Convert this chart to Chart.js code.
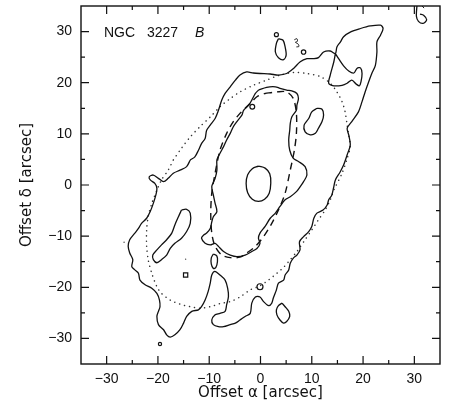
<!DOCTYPE html>
<html><head><meta charset="utf-8">
<script src="https://cdn.jsdelivr.net/npm/chart.js@4/dist/chart.umd.min.js"></script>
<style>html,body{margin:0;padding:0;background:#fff}</style>
</head><body>
<canvas id="c" width="457" height="414" style="width:457px;height:414px"></canvas>
<script>
// Axis ticks (arcsec)
const tickValues = [-30, -20, -10, 0, 10, 20, 30];
const minorTickValues = [-30, -25, -20, -15, -10, -5, 0, 5, 10, 15, 20, 25, 30];
const axisRange = [-35, 35];

// Outer isophote (arcsec offsets)
const outerContour = [
[-13.7,4.9],[-12.8,5.5],[-12.1,6.8],[-11.5,8.1],[-10.8,9.1],[-10.5,10.7],[-9.8,11.7],[-8.85,13.0],[-8.2,14.6],[-7.55,16.6],[-6.9,17.9],[-5.9,19.2],[-4.9,20.5],[-4.0,21.5],[-2.7,22.1],[-1.4,21.9],[-0.1,21.8],[1.9,21.7],[3.5,21.5],[5.1,21.8],[6.45,22.8],[7.75,24.1],[9.05,24.7],[10.35,24.7],[11.3,24.9],[12.3,26.0],[13.6,26.2],[14.6,25.7],[14.9,27.0],[15.6,28.0],[16.2,29.0],[17.5,29.9],[19.5,30.6],[21.4,31.1],[23.4,31.25],[23.9,30.6],[23.4,29.3],[22.7,28.0],[22.7,26.0],[22.4,23.4],[21.7,21.8],[21.1,20.2],[20.4,18.2],[19.8,16.3],[19.1,14.3],[17.8,12.4],[16.9,11.1],[17.2,9.8],[17.5,7.8],[16.9,5.9],[16.2,3.9],[15.5,2.5],[14.6,1.0],[14.3,-0.3],[13.9,-2.0],[13.3,-2.9],[13.0,-3.9],[12.2,-4.9],[11.0,-5.5],[10.4,-6.5],[10.0,-8.1],[9.4,-9.1],[8.4,-10.1],[7.6,-11.1],[7.7,-12.7],[7.1,-13.7],[6.4,-14.3],[5.8,-15.3],[5.5,-16.6],[4.8,-17.6],[4.5,-18.6],[3.5,-19.2],[3.1,-20.5],[2.5,-22.1],[2.2,-23.1],[1.6,-23.6],[0.6,-22.8],[-0.1,-21.9],[-1.0,-21.9],[-1.7,-23.1],[-2.0,-25.1],[-3.0,-25.7],[-4.0,-26.4],[-4.9,-27.0],[-5.9,-27.3],[-7.2,-27.7],[-8.2,-27.7],[-9.2,-27.3],[-9.5,-26.4],[-8.9,-25.4],[-7.9,-25.1],[-6.9,-24.7],[-6.6,-23.4],[-6.25,-21.8],[-6.4,-20.2],[-6.9,-18.6],[-7.9,-17.6],[-8.9,-16.9],[-9.5,-17.6],[-9.8,-19.2],[-10.2,-20.8],[-10.8,-22.5],[-11.5,-23.8],[-12.1,-24.4],[-13.4,-24.7],[-14.4,-25.7],[-15.0,-27.0],[-15.7,-28.3],[-16.7,-29.3],[-17.6,-29.75],[-18.3,-29.3],[-18.9,-28.3],[-19.9,-27.3],[-20.2,-25.7],[-19.9,-24.7],[-19.6,-23.8],[-19.7,-22.5],[-20.2,-21.2],[-21.2,-20.2],[-22.5,-19.5],[-23.5,-18.6],[-23.8,-17.25],[-24.5,-16.6],[-25.1,-15.95],[-24.9,-14.6],[-25.5,-13.3],[-25.8,-12.0],[-25.5,-10.7],[-24.5,-9.4],[-23.8,-8.5],[-23.2,-7.5],[-22.2,-6.5],[-21.5,-5.2],[-20.9,-3.6],[-20.4,-1.95],[-20.2,-0.65],[-20.6,0.3],[-21.5,1.0],[-21.7,1.6],[-20.9,1.95],[-19.9,1.3],[-18.9,0.65],[-18.0,1.3],[-17.0,2.3],[-15.7,2.9],[-14.4,3.6]
];
// Loop inside the NE arm
const armLoop = [
[14.6,25.7],[14.3,24.1],[13.6,21.5],[13.3,19.9],[14.3,19.4],[15.9,19.5],[16.9,19.9],[17.8,20.5],[18.7,19.7],[19.3,19.4],[19.6,20.2],[19.8,21.8],[19.5,22.9],[18.8,22.8],[18.2,21.9],[17.2,22.3],[16.2,23.3],[15.3,24.6]
];
// Inner isophote
const innerContour = [
[-0.4,18.55],[1.2,19.1],[2.9,19.2],[3.8,18.9],[5.1,18.55],[6.1,18.4],[7.1,17.9],[7.4,16.9],[7.1,15.6],[7.0,14.6],[6.1,13.3],[5.8,12.0],[5.7,10.7],[5.5,8.8],[5.7,6.8],[6.4,5.2],[7.4,4.6],[8.7,3.6],[9.05,1.95],[8.4,0.65],[7.75,-0.3],[7.0,-1.3],[5.8,-2.3],[4.8,-2.9],[3.8,-4.2],[2.9,-5.5],[1.9,-6.5],[0.9,-8.1],[-0.1,-9.4],[-0.4,-10.4],[-0.1,-11.4],[-0.7,-12.4],[-1.7,-13.0],[-3.0,-13.7],[-4.6,-14.0],[-5.9,-13.7],[-7.2,-13.0],[-8.2,-12.0],[-8.85,-11.4],[-9.8,-11.7],[-10.8,-11.4],[-11.5,-10.4],[-11.1,-9.8],[-10.5,-9.4],[-9.8,-8.5],[-9.5,-7.2],[-9.2,-6.2],[-8.5,-5.2],[-8.85,-3.6],[-9.2,-1.95],[-9.5,-0.3],[-8.85,1.3],[-8.5,2.9],[-8.5,4.9],[-7.9,6.2],[-7.2,7.5],[-6.6,8.8],[-5.9,10.1],[-5.3,11.4],[-4.6,12.4],[-3.6,13.7],[-3.3,14.6],[-2.3,15.6],[-1.7,16.6],[-1.0,17.9]
];
// Nuclear isophote
const nucleusContour = [
[-0.4,3.7],[0.9,3.3],[1.8,2.2],[2.0,0.3],[1.7,-1.6],[0.8,-2.8],[-0.4,-3.2],[-1.6,-2.8],[-2.5,-1.5],[-2.8,0.3],[-2.5,2.0],[-1.6,3.2]
];
// Isolated islands
const islandWest = [
[-15.4,-4.9],[-14.4,-4.75],[-13.7,-5.5],[-13.7,-7.5],[-14.4,-9.1],[-15.4,-10.4],[-16.7,-11.4],[-17.6,-12.4],[-18.3,-13.7],[-19.3,-14.6],[-20.2,-15.2],[-20.9,-14.6],[-21.0,-13.7],[-20.2,-12.7],[-19.3,-11.7],[-18.3,-10.7],[-17.3,-9.4],[-16.7,-7.8],[-16.0,-6.2]
];
const islandSouth = [
[-9.2,-13.5],[-8.5,-13.9],[-8.4,-15.0],[-8.7,-16.1],[-9.2,-16.3],[-9.6,-15.4],[-9.6,-14.3]
];
const islandSE = [
[4.2,-23.1],[4.8,-23.8],[5.5,-24.7],[5.7,-25.7],[5.1,-26.7],[4.5,-27.0],[3.8,-26.4],[3.2,-25.4],[3.1,-24.4],[3.5,-23.6]
];
const islandEast = [
[11.0,15.0],[12.0,14.8],[12.3,13.7],[12.0,12.4],[11.3,11.1],[10.7,10.1],[9.7,9.8],[8.7,10.4],[8.5,11.7],[9.4,13.0],[10.0,14.3]
];
const islandNorth = [
[3.5,28.6],[4.4,28.3],[4.8,27.0],[5.0,25.4],[4.5,24.5],[3.5,24.9],[2.9,26.0],[3.1,27.7]
];
const scribbleNorth = [
[6.6,28.4],[7.1,28.6],[7.2,28.1],[6.8,27.9],[7.3,27.6],[7.5,27.1],[7.0,27.0]
];
const cornerContour = [
[30.5,35.0],[30.4,33.0],[30.8,32.0],[31.7,31.6],[32.4,32.3],[31.8,33.2],[31.1,33.4]
];
const cornerTick = [[31.5,35.0],[31.9,34.6]];
// Tiny closed isophotes (centres)
const tinyLoops = [[-0.1,-19.9],[3.1,29.4],[8.4,26.0],[-1.6,15.3],[-19.6,-31.1]];
const tinySquare = [[-14.6,-17.6]];
const tinyDots = [[-14.6,-14.5],[-26.6,-11.2]];

// Model ellipses
const dashedEllipse = [
[0.9,17.9],[3.2,18.2],[5.1,18.2],[6.4,16.9],[7.0,14.0],[7.0,10.1],[6.6,6.8],[5.8,2.9],[4.8,-1.6],[3.5,-4.9],[2.2,-7.5],[0.6,-10.1],[-1.0,-12.0],[-2.7,-13.3],[-4.0,-14.1],[-5.9,-14.2],[-7.55,-13.7],[-8.85,-12.0],[-9.5,-9.4],[-9.7,-5.5],[-9.5,-1.6],[-8.85,2.3],[-7.9,6.8],[-6.6,10.1],[-5.3,12.4],[-4.0,14.0],[-2.7,15.3],[-2.0,15.95],[-0.7,17.25]
];
const dottedEllipse = [
[-17.0,4.9],[-15.4,7.2],[-13.7,9.4],[-11.8,11.4],[-9.8,13.3],[-7.9,15.3],[-5.9,16.9],[-4.0,18.2],[-1.4,19.5],[1.2,20.5],[3.8,21.5],[6.45,22.0],[9.05,21.8],[11.65,21.2],[13.6,19.9],[14.9,18.2],[15.9,16.3],[16.5,14.3],[16.9,11.7],[17.2,9.8],[17.5,7.5],[16.9,5.2],[15.9,2.3],[14.3,-1.0],[13.6,-2.9],[12.6,-4.9],[11.3,-6.8],[10.0,-8.8],[8.7,-10.7],[7.1,-13.0],[5.8,-14.6],[4.5,-16.1],[3.2,-17.25],[1.6,-18.55],[-0.1,-19.7],[-2.0,-20.5],[-4.0,-21.9],[-5.9,-22.8],[-7.9,-23.2],[-9.8,-23.8],[-11.8,-24.1],[-13.7,-23.8],[-15.7,-23.3],[-17.6,-22.5],[-19.3,-21.2],[-20.2,-19.9],[-21.2,-17.25],[-21.9,-14.6],[-22.2,-12.0],[-22.2,-8.8],[-21.9,-6.2],[-21.2,-3.6],[-20.2,-1.0],[-19.3,1.0],[-18.0,2.9]
];

const labelMain = 'NGC';
const labelNum = '3227';
const labelBand = 'B';

function pts(arr, close) {
  const p = arr.map(a => ({x: a[0], y: a[1]}));
  if (close) p.push({x: arr[0][0], y: arr[0][1]});
  return p;
}
function line(arr, close, extra) {
  return Object.assign({
    data: pts(arr, close), showLine: true, pointRadius: 0, borderColor: '#111',
    borderWidth: 1.3, tension: 0.3, fill: false, borderJoinStyle: 'round'
  }, extra || {});
}

const datasets = [
  line(outerContour, true),
  line(armLoop, true),
  line(innerContour, true),
  line(nucleusContour, true, {tension: 0.4}),
  line(islandWest, true),
  line(islandSouth, true, {tension: 0.4}),
  line(islandSE, true),
  line(islandEast, true),
  line(islandNorth, true),
  line(scribbleNorth, false, {borderWidth: 1}),
  line(cornerContour, false),
  line(cornerTick, false, {borderWidth: 1}),
  line(dashedEllipse, true, {borderDash: [7, 5], borderWidth: 1.4}),
  line(dottedEllipse, true, {borderDash: [0.1, 5], borderCapStyle: 'round', borderWidth: 1.5, borderColor: '#333'}),
  {data: pts(tinyLoops), showLine: false, pointRadius: [3, 2, 2.2, 2.4, 1.6], pointBorderColor: '#111', pointBackgroundColor: 'rgba(0,0,0,0)', pointBorderWidth: 1.2, pointStyle: 'circle'},
  {data: pts(tinySquare), showLine: false, pointRadius: 3, pointBorderColor: '#111', pointBackgroundColor: 'rgba(0,0,0,0)', pointBorderWidth: 1.2, pointStyle: 'rect'},
  {data: pts(tinyDots), showLine: false, pointRadius: 0.7, pointBorderColor: '#444', pointBackgroundColor: '#444', pointBorderWidth: 0}
];

const framePlugin = {
  id: 'frame',
  afterDraw(chart) {
    const {ctx, chartArea: a, scales: {x, y}} = chart;
    ctx.save();
    ctx.strokeStyle = '#111';
    ctx.lineWidth = 1.4;
    ctx.strokeRect(a.left, a.top, a.right - a.left, a.bottom - a.top);
    ctx.lineWidth = 1.2;
    ctx.beginPath();
    minorTickValues.forEach(v => {
      const len = (v % 10 === 0) ? 8 : 4;
      const px = x.getPixelForValue(v), py = y.getPixelForValue(v);
      ctx.moveTo(px, a.bottom); ctx.lineTo(px, a.bottom - len);
      ctx.moveTo(px, a.top); ctx.lineTo(px, a.top + len);
      ctx.moveTo(a.left, py); ctx.lineTo(a.left + len, py);
      ctx.moveTo(a.right, py); ctx.lineTo(a.right - len, py);
    });
    ctx.stroke();
    // Label
    ctx.fillStyle = '#111';
    ctx.textBaseline = 'alphabetic';
    ctx.font = '14px "Liberation Sans", Arial, sans-serif';
    ctx.fillText(labelMain, a.left + 23, a.top + 31);
    ctx.fillText(labelNum, a.left + 66, a.top + 31);
    ctx.font = 'italic 14px "Liberation Sans", Arial, sans-serif';
    ctx.fillText(labelBand, a.left + 114, a.top + 31);
    ctx.restore();
  }
};

new Chart(document.getElementById('c'), {
  type: 'scatter',
  data: {datasets},
  options: {
    responsive: false,
    animation: false,
    devicePixelRatio: 1,
    layout: {padding: {top: 6, right: 17, left: 0, bottom: 0}},
    plugins: {legend: {display: false}, tooltip: {enabled: false}},
    scales: {
      x: {
        type: 'linear', position: 'bottom', min: axisRange[0], max: axisRange[1],
        afterBuildTicks: s => { s.ticks = tickValues.map(v => ({value: v})); },
        afterFit: s => { s.height = 50; s.paddingLeft = 0; s.paddingRight = 0; },
        grid: {display: false, drawTicks: false},
        border: {display: false},
        ticks: {padding: 7, color: '#111', font: {family: '"Liberation Sans", Arial, sans-serif', size: 14},
          callback: v => (v < 0 ? '\u2212' + Math.abs(v) : String(v))},
        title: {display: true, text: 'Offset \u03b1 [arcsec]', color: '#111',
          font: {family: '"DejaVu Sans", sans-serif', size: 15}, padding: {top: 0, bottom: 12}}
      },
      y: {
        type: 'linear', position: 'left', min: axisRange[0], max: axisRange[1],
        afterBuildTicks: s => { s.ticks = tickValues.map(v => ({value: v})); },
        afterFit: s => { s.width = 81; s.paddingTop = 0; s.paddingBottom = 0; },
        grid: {display: false, drawTicks: false},
        border: {display: false},
        ticks: {padding: 9, color: '#111', font: {family: '"Liberation Sans", Arial, sans-serif', size: 14},
          callback: v => (v < 0 ? '\u2212' + Math.abs(v) : String(v))},
        title: {display: true, text: 'Offset \u03b4 [arcsec]', color: '#111',
          font: {family: '"DejaVu Sans", sans-serif', size: 15}, padding: {top: 18, bottom: 0}}
      }
    }
  },
  plugins: [framePlugin]
});
</script>
</body></html>
